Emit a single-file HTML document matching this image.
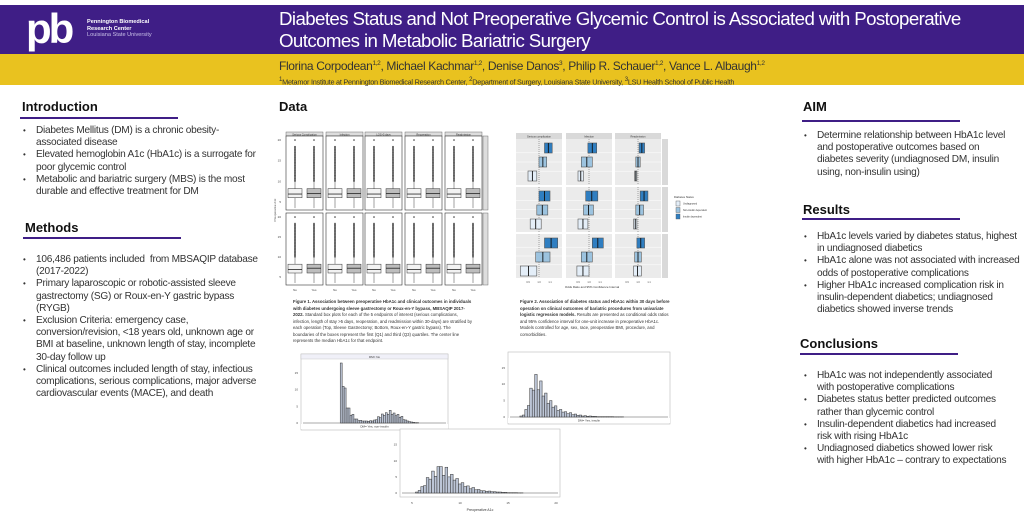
<!DOCTYPE html>
<html><head><meta charset="utf-8"><style>
*{margin:0;padding:0;box-sizing:border-box}
body{width:1024px;height:512px;background:#fff;position:relative;overflow:hidden;font-family:"Liberation Sans",sans-serif;color:#222}
.hdr{position:absolute;left:0;top:5px;width:1024px;height:49px;background:#3f1e86}
.gold{position:absolute;left:0;top:54px;width:1024px;height:31px;background:#e9c21f}
.abs{position:absolute}
h2{position:absolute;font-size:13px;font-weight:bold;color:#111}
.ul{position:absolute;height:1.5px;background:#3f1e86}
ul{position:absolute;list-style:none;font-size:10.1px;line-height:12.2px;color:#333;letter-spacing:-0.25px}
ul li{position:relative;padding-left:14px;margin-bottom:0}
ul li:before{content:"•";position:absolute;left:1px;top:0;font-size:8px}
.cap{position:absolute;font-size:4.3px;line-height:6.5px;color:#333}
</style></head><body>
<div class="hdr"></div>
<div class="gold"></div>
<div class="abs" style="left:26px;top:9px;font-size:42px;font-weight:bold;color:#fff;letter-spacing:-3px;line-height:40px">pb</div>
<div class="abs" style="left:87px;top:19px;font-size:5.6px;line-height:6.6px;color:#fff;font-weight:bold">Pennington Biomedical<br>Research Center<br><span style="font-weight:normal;color:#c9c0e8">Louisiana State University</span></div>
<div class="abs" style="left:279px;top:8px;width:740px;font-size:18.7px;line-height:22px;color:#fff;letter-spacing:-0.6px">Diabetes Status and Not Preoperative Glycemic Control is Associated with Postoperative<br>Outcomes in Metabolic Bariatric Surgery</div>
<div class="abs" style="left:279px;top:59px;font-size:12px;color:#333;letter-spacing:-0.35px">Florina Corpodean<sup style="font-size:6.5px">1,2</sup>, Michael Kachmar<sup style="font-size:6.5px">1,2</sup>, Denise Danos<sup style="font-size:6.5px">3</sup>, Philip R. Schauer<sup style="font-size:6.5px">1,2</sup>, Vance L. Albaugh<sup style="font-size:6.5px">1,2</sup></div>
<div class="abs" style="left:279px;top:76px;font-size:7.3px;color:#333;letter-spacing:-0.25px"><sup>1</sup>Metamor Institute at Pennington Biomedical Research Center, <sup>2</sup>Department of Surgery, Louisiana State University, <sup>3</sup>LSU Health School of Public Health</div>

<h2 style="left:22px;top:99px">Introduction</h2><div class="ul" style="left:20px;top:117px;width:158px"></div>
<ul style="left:22px;top:125px;width:236px">
<li>Diabetes Mellitus (DM) is a chronic obesity-associated disease</li>
<li>Elevated hemoglobin A1c (HbA1c) is a surrogate for poor glycemic control</li>
<li>Metabolic and bariatric surgery (MBS) is the most durable and effective treatment for DM</li></ul>
<h2 style="left:25px;top:220px">Methods</h2><div class="ul" style="left:23px;top:237px;width:158px"></div>
<ul style="left:22px;top:254px;width:236px">
<li>106,486 patients included&nbsp; from MBSAQIP database (2017-2022)</li>
<li>Primary laparoscopic or robotic-assisted sleeve gastrectomy (SG) or Roux-en-Y gastric bypass (RYGB)</li>
<li>Exclusion Criteria: emergency case, conversion/revision, &lt;18 years old, unknown age or BMI at baseline, unknown length of stay, incomplete 30-day follow up</li>
<li>Clinical outcomes included length of stay, infectious complications, serious complications, major adverse cardiovascular events (MACE), and death</li></ul>

<h2 style="left:279px;top:99px">Data</h2>

<h2 style="left:803px;top:99px">AIM</h2><div class="ul" style="left:802px;top:120px;width:158px"></div>
<ul style="left:803px;top:130px;width:205px">
<li>Determine relationship between HbA1c level and postoperative outcomes based on diabetes severity (undiagnosed DM, insulin using, non-insulin using)</li></ul>
<h2 style="left:803px;top:202px">Results</h2><div class="ul" style="left:802px;top:218px;width:158px"></div>
<ul style="left:803px;top:231px;width:218px">
<li>HbA1c levels varied by diabetes status, highest in undiagnosed diabetics</li>
<li>HbA1c alone was not associated with increased odds of postoperative complications</li>
<li>Higher HbA1c increased complication risk in insulin-dependent diabetics; undiagnosed diabetics showed inverse trends</li></ul>
<h2 style="left:800px;top:336px">Conclusions</h2><div class="ul" style="left:800px;top:353px;width:158px"></div>
<ul style="left:803px;top:370px;width:208px">
<li>HbA1c was not independently associated with postoperative complications</li>
<li>Diabetes status better predicted outcomes rather than glycemic control</li>
<li>Insulin-dependent diabetics had increased risk with rising HbA1c</li>
<li>Undiagnosed diabetics showed lower risk with higher HbA1c – contrary to expectations</li></ul>

<svg id="s" class="abs" style="left:0;top:0" width="1024" height="512" font-family="Liberation Sans, sans-serif"></svg>

<div class="cap" style="left:293px;top:299px;width:180px"><b>Figure 1. Association between preoperative HbA1c and clinical outcomes in individuals with diabetes undergoing sleeve gastrectomy or Roux-en-Y bypass, MBSAQIP 2017-2022.</b> Standard box plots for each of the 5 endpoints of interest (serious complications, infection, length of stay &gt;5 days, reoperation, and readmission within 30-days) are stratified by each operation (Top, Sleeve Gastrectomy; Bottom, Roux-en-Y gastric bypass). The boundaries of the boxes represent the first (Q1) and third (Q3) quartiles. The center line represents the median HbA1c for that endpoint.</div>
<div class="cap" style="left:520px;top:299px;width:150px"><b>Figure 2. Association of diabetes status and HbA1c within 30 days before operation on clinical outcomes of bariatric procedures from univariate logistic regression models.</b> Results are presented as conditional odds ratios and 95% confidence interval for one-unit increase in preoperative HbA1c. Models controlled for age, sex, race, preoperative BMI, procedure, and comorbidities.</div>

<script>
const s=document.getElementById('s');let h='';
function R(x,y,w,hh,f,st,sw){h+=`<rect x="${x}" y="${y}" width="${w}" height="${hh}" fill="${f}" stroke="${st||'none'}" stroke-width="${sw||0.5}"/>`}
function L(a,b,c,d,st,sw,da){h+=`<line x1="${a}" y1="${b}" x2="${c}" y2="${d}" stroke="${st}" stroke-width="${sw||0.5}" ${da?'stroke-dasharray="'+da+'"':''}/>`}
function T(x,y,t,fs,a,f,rot){h+=`<text x="${x}" y="${y}" font-size="${fs}" text-anchor="${a||'start'}" fill="${f||'#444'}" ${rot?`transform="rotate(${rot} ${x} ${y})"`:''}>${t}</text>`}
const px=[286,326,365,405,445],pw=37,names=['Serious Complication','Infection','LOS&gt;5 days','Reoperation','Readmission'];
const rows=[[136,210],[213,285]];
px.forEach((x,i)=>{R(x,132,pw,4,'#ddd','#555',0.4);T(x+pw/2,135.3,names[i],2.6,'middle','#333')});
rows.forEach((r,ri)=>{const [y0,y1]=r;const sc=v=>y1-4-(v-4)/16*(y1-y0-8);
 R(483,y0,5,y1-y0,'#ddd','#555',0.4);
 [5,10,15,20].forEach(v=>{T(281,sc(v)+1,v,3,'end');});
 px.forEach((x,i)=>{R(x,y0,pw,y1-y0,'#fff','#333',0.6);
  [[x+9,'#f2f2f2',6.9],[x+28,'#bdbdbd',ri?7.2:7.0]].forEach(([cx,f,m],k)=>{
   L(cx,sc(18.5),cx,sc(3.5),'#444',0.5);
   for(let v=10;v<=18.5;v+=0.15)h+=`<circle cx="${cx}" cy="${sc(v)}" r="0.7" fill="#333"/>`;
   R(cx-7,sc(8.2),14,sc(6)-sc(8.2),f,'#333',0.5);L(cx-7,sc(m),cx+7,sc(m),'#222',0.8);
   h+=`<circle cx="${cx}" cy="${sc(20)}" r="0.8" fill="#333"/>`;});
  if(ri==1){T(x+9,291,'No',3,'middle');T(x+28,291,'Yes',3,'middle');}
 });});
T(276,210,'Preoperative A1c',3,'middle','#444',-90);
const fx=[516,566,615],fw=46,fn=['Serious complication','Infection','Readmission'];
const fr=[[139,185],[187,232],[234,278]];
fx.forEach((x,i)=>{R(x,133,fw,6,'#d9d9d9');T(x+fw/2,137.5,fn[i],2.6,'middle','#333')});
const cols=['#2f7ec1','#9cc3df','#e4eef8'];
const dat=[[[[1.05,1.12],[1.0,1.07],[0.9,0.98]],[[0.99,1.07],[0.93,1.03],[0.9,0.95]],[[1.01,1.06],[0.98,1.02],[0.97,0.99]]],
[[[1.0,1.1],[0.98,1.08],[0.92,1.02]],[[0.97,1.08],[0.95,1.04],[0.9,0.99]],[[1.02,1.09],[0.98,1.05],[0.96,0.99]]],
[[[1.05,1.17],[0.97,1.1],[0.83,0.98]],[[1.03,1.13],[0.93,1.03],[0.89,1.0]],[[0.99,1.06],[0.97,1.03],[0.96,1.03]]]];
fr.forEach((r,ri)=>{R(662,r[0],6,r[1]-r[0],'#d9d9d9');
 fx.forEach((x,ci)=>{R(x,r[0],fw,r[1]-r[0],'#ebebeb');
  [0.3,0.5,0.7].forEach(f=>L(x,r[0]+f*(r[1]-r[0]),x+fw,r[0]+f*(r[1]-r[0]),'#fff',0.5));
  const sx=v=>x+fw/2+(v-1)*110;L(sx(1),r[0],sx(1),r[1],'#555',0.5,'1,1');
  dat[ri][ci].forEach((d,k)=>{const y=r[0]+4+k*14;R(sx(d[0]),y,sx(d[1])-sx(d[0]),10,cols[k],'#555',0.6);const m=(d[0]+d[1])/2;L(sx(m),y,sx(m),y+10,'#111',0.9)});
  if(ri==2){[0.9,1.0,1.1].forEach(v=>T(sx(v),283,v.toFixed(1),2.4,'middle'))}
 });});
T(592,288,'Odds Ratio and 95% Confidence Interval',3,'middle','#333');
T(674,198,'Diabetes Status',2.8,'start','#333');
['Undiagnosed','Non-insulin dependent','Insulin dependent'].forEach((t,k)=>{R(676,201+k*6.5,4,5,cols[2-k],'#555',0.4);T(683,204.5+k*6.5,t,2.4,'start','#333')});
function hist(x0,y0,w,hh,vals,ymax,top,bot){R(x0,y0,w,hh,'#fff','#bbb',0.6);
 if(top){R(x0,y0,w,5,'#f0f0f8','#bbb',0.4);T(x0+w/2,y0+3.8,top,3,'middle','#333')}
 const base=y0+hh-(bot?7:4);const ptop=y0+(top?9:6);L(x0+2,base,x0+w-2,base,'#555',0.5);
 [0,5,10,15].forEach(v=>{const y=base-v/ymax*(base-ptop);T(x0-3,y+1,v,3,'end')});
 const bw=(w-4)/vals.length;vals.forEach((v,i)=>{if(v>0)R(x0+2+i*bw,base-v/ymax*(base-ptop),bw,v/ymax*(base-ptop),'#bcc5d6','#333',0.5)});
 if(bot){R(x0,base+1,w,5,'#fff');T(x0+w/2,base+4.5,bot,3,'middle','#333')}
}
const h1=[0,0,0,0,0,0,0,0,0,0,0,0,0,0,0,0,0,0,0,18,11,10.5,4.5,4.5,2.3,2.6,1.2,1.2,0.7,0.8,0.6,0.6,0.6,0.5,0.7,0.6,0.9,1,1.9,1.6,2.7,2.3,3.1,2.6,3.8,2.6,3,2.2,2.6,1.7,2,1,0.9,0.6,0.4,0.3,0.2,0.1,0.1,0,0,0,0,0,0,0,0,0,0,0,0,0,0];
hist(301,354,147,76,h1,18,'DM= No','DM= Yes, non-insulin');
const h2=[0,0,0,0,0.3,0.6,2.3,3.5,8.8,8.2,13,8.3,11,6.4,7.3,4.2,5,3,3.4,2,2.3,1.5,1.6,1,1.3,0.7,0.9,0.5,0.6,0.3,0.4,0.2,0.3,0.2,0.2,0.1,0.1,0.1,0.1,0.1,0.1,0.1,0.05,0.05,0.05,0.05,0,0,0,0,0,0,0,0,0,0,0,0,0,0,0,0,0,0];
hist(508,352,162,72,h2,18,'','DM= Yes, insulin');
const h3=[0,0,0,0,0,0.3,0.8,2,2.3,4.8,4.3,6.8,5.2,8.2,8.2,5.5,8,5,5.8,4,4.5,2.8,3.2,2,2.2,1.3,1.7,1,1.1,0.7,0.7,0.5,0.6,0.4,0.4,0.3,0.3,0.2,0.2,0.1,0.1,0.1,0.1,0.05,0.05,0,0,0,0,0,0,0,0,0,0,0,0,0];
hist(400,429,160,68,h3,18,'','');
[[5,412],[10,460],[15,508],[20,556]].forEach(([v,x])=>T(x,504,v,3,'middle'));
T(480,511,'Preoperative A1c',3.5,'middle','#333');
s.innerHTML=h;
</script>
</body></html>
